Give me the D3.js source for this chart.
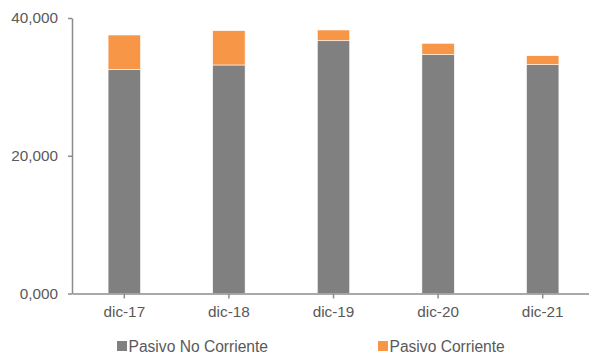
<!DOCTYPE html>
<html>
<head>
<meta charset="utf-8">
<script src="https://cdn.jsdelivr.net/npm/d3@7"></script>
<style>
  html, body { margin: 0; padding: 0; background: #fff; }
  svg { display: block; font-family: "Liberation Sans", Arial, sans-serif; }
</style>
</head>
<body>
<svg id="chart" width="589" height="354"></svg>
<script>
// Liabilities by year-end (thousands)
const categories = ["dic-17", "dic-18", "dic-19", "dic-20", "dic-21"];
const pasivoNoCorriente = [32550, 33180, 36700, 34680, 33220];
const pasivoCorriente = [4980, 4980, 1560, 1650, 1310];
const seriesNames = ["Pasivo No Corriente", "Pasivo Corriente"];
const seriesColors = ["#808080", "#F79646"];
const yTickValues = [0, 20000, 40000];
const yTickLabels = ["0,000", "20,000", "40,000"];

const svg = d3.select("#chart");
const margin = { left: 72, top: 18, right: -6, bottom: 60 };
const width = 589, height = 354;

const rows = categories.map((c, i) => ({
  cat: c,
  "Pasivo No Corriente": pasivoNoCorriente[i],
  "Pasivo Corriente": pasivoCorriente[i]
}));
const stacked = d3.stack().keys(seriesNames)(rows);

const x = d3.scaleBand()
  .domain(categories)
  .range([margin.left, width - margin.right])
  .paddingInner(0.69)
  .paddingOuter(0.345);

const y = d3.scaleLinear()
  .domain([0, 40000])
  .range([height - margin.bottom - 0.5, margin.top]);

// Bars
svg.append("g")
  .selectAll("g")
  .data(stacked)
  .join("g")
  .attr("fill", (d, i) => seriesColors[i])
  .selectAll("rect")
  .data(d => d)
  .join("rect")
  .attr("x", d => x(d.data.cat))
  .attr("width", x.bandwidth())
  .attr("y", d => y(d[1]))
  .attr("height", d => y(d[0]) - y(d[1]))
  .attr("stroke", "#fff")
  .attr("stroke-width", 0.6);

const axisColor = "#8c8c8c";
const textColor = "#595959";
const fontSize = "15.3px";

// Y axis
const yAxis = svg.append("g")
  .attr("transform", `translate(${margin.left},0)`)
  .call(d3.axisLeft(y)
    .tickValues(yTickValues)
    .tickFormat((d, i) => yTickLabels[i])
    .tickSizeInner(4)
    .tickSizeOuter(0)
    .tickPadding(10));
yAxis.select(".domain").attr("stroke", axisColor).attr("stroke-width", 1.5);
yAxis.selectAll(".tick line").attr("stroke", axisColor).attr("stroke-width", 1.5);
yAxis.selectAll(".tick text")
  .attr("fill", textColor)
  .style("font-size", fontSize)
  .style("font-family", "Liberation Sans, Arial, sans-serif");

// X axis
const xAxis = svg.append("g")
  .attr("transform", `translate(0,${y(0)})`)
  .call(d3.axisBottom(x).tickSizeInner(5).tickSizeOuter(0).tickPadding(8));
xAxis.select(".domain").attr("stroke", axisColor).attr("stroke-width", 1.5);
xAxis.selectAll(".tick line").attr("stroke", axisColor).attr("stroke-width", 1.5);
xAxis.selectAll(".tick text")
  .attr("fill", textColor)
  .style("font-size", fontSize)
  .style("font-family", "Liberation Sans, Arial, sans-serif");

// Legend
const legendX = [117, 378];
const legend = svg.append("g")
  .selectAll("g")
  .data(seriesNames)
  .join("g")
  .attr("transform", (d, i) => `translate(${legendX[i]},${341})`);
legend.append("rect")
  .attr("width", 10).attr("height", 10)
  .attr("fill", (d, i) => seriesColors[i]);
legend.append("text")
  .attr("x", 11.5).attr("y", 10.5)
  .attr("fill", textColor)
  .style("font-size", "15.6px")
  .text(d => d);
</script>
</body>
</html>
